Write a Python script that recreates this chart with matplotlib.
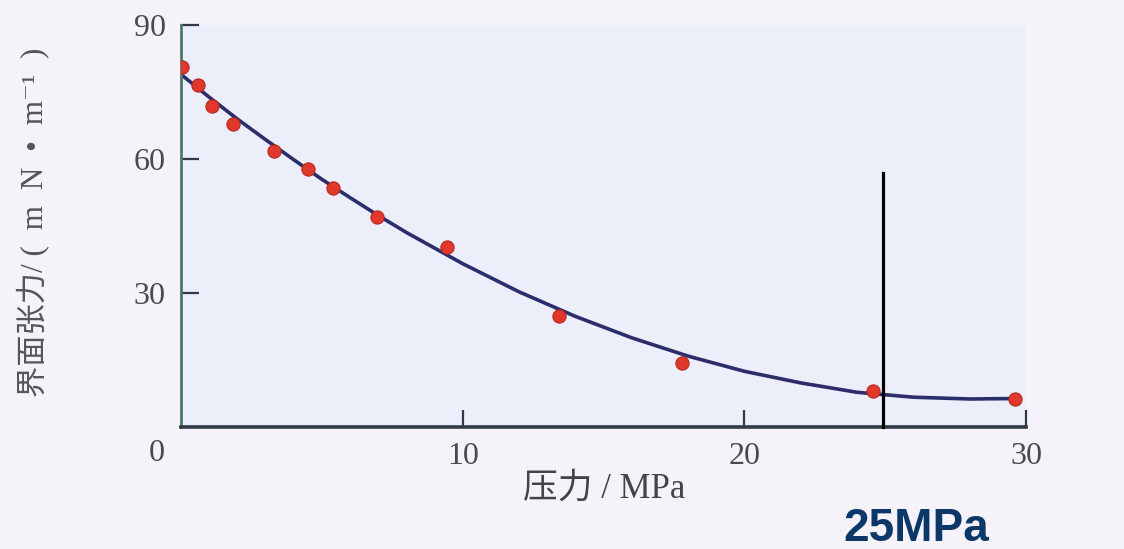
import numpy as np
import matplotlib
matplotlib.use("Agg")
from matplotlib import pyplot as plt

# measured points (pressure MPa, interfacial tension mN/m)
pressure = [0.05, 0.6, 1.1, 1.85, 3.3, 4.5, 5.4, 6.95, 9.45, 13.4, 17.8, 24.55, 29.6]
tension = [80.6, 76.6, 71.9, 67.8, 61.8, 57.8, 53.5, 47.0, 40.3, 24.8, 14.3, 8.1, 6.3]

# fitted curve
curve_x = [0, 1, 2, 3, 4, 5, 6, 7, 8, 10, 12, 14, 16, 18, 20, 22, 24, 26, 28, 29.6]
curve_y = [79.0, 73.9, 69.0, 64.4, 59.9, 55.5, 51.4, 47.4, 43.6, 36.6, 30.3, 24.8,
           20.0, 15.9, 12.5, 9.9, 7.8, 6.7, 6.3, 6.4]

x_ticks = [10, 20, 30]
y_ticks = [30, 60, 90]
marker_x = 24.9
marker_top = 57.0
marker_label = "25MPa"

serif_cjk = ["Liberation Serif", "Noto Sans CJK SC", "DejaVu Serif"]

fig = plt.figure(figsize=(11.24, 5.49), dpi=100, facecolor="#f5f3f9")
ax = fig.add_axes([0.161, 0.222, 0.752, 0.732])
ax.set_facecolor("#eceffa")

ax.plot(curve_x, curve_y, color="#2c2e6b", lw=2.6, solid_capstyle="round", zorder=2)
ax.plot(pressure, tension, "o", ms=9.5, mfc="#e0392c", mec="#b8261f", mew=0.8, zorder=3)
ax.plot([marker_x, marker_x], [0, marker_top], color="black", lw=2.3, zorder=4, clip_on=False)

ax.set_xlim(0, 30)
ax.set_ylim(0, 90)
ax.set_xticks(x_ticks)
ax.set_yticks(y_ticks)

for side in ["top", "right"]:
    ax.spines[side].set_visible(False)
ax.spines["left"].set_color("#4b7b66")
ax.spines["left"].set_linewidth(2.0)
ax.spines["bottom"].set_color("#303946")
ax.spines["bottom"].set_linewidth(2.6)

ax.tick_params(axis="x", direction="in", length=12, width=1.6, color="#303946", pad=11)
ax.tick_params(axis="y", direction="in", length=13, width=1.6, color="#303946", pad=11)
for lab in ax.get_xticklabels() + ax.get_yticklabels():
    lab.set_family(serif_cjk)
    lab.set_fontsize(23)
    lab.set_color("#4a4a4a")

# shared origin label
ax.text(-0.85, -5.8, "0", ha="center", va="center", fontsize=23, color="#4a4a4a",
        family=serif_cjk, clip_on=False)

fig.text(604 / 1124, 1 - 489 / 549, "压力 / MPa", ha="center", va="center",
         fontsize=25, color="#444444", family=serif_cjk)
fig.text(33 / 1124, 1 - 222 / 549, "界面张力/ (  m  N  •  m⁻¹  )", ha="center", va="center",
         rotation=90, fontsize=22.5, color="#555555", family=serif_cjk)

fig.text(916 / 1124, 1 - 529 / 549, marker_label, ha="center", va="center",
         fontsize=33, fontweight="bold", color="#0b3868",
         family=["Liberation Sans", "DejaVu Sans"])

fig.savefig("out.png", dpi=100, facecolor=fig.get_facecolor())
